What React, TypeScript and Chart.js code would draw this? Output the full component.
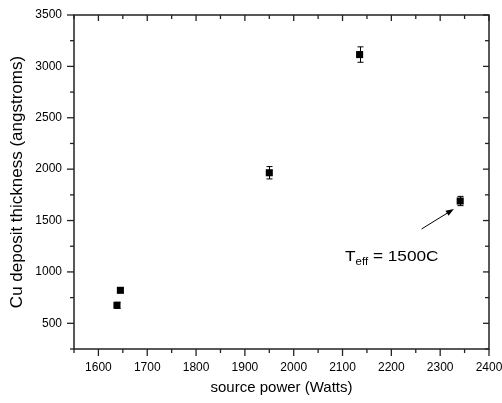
import { useEffect, useRef } from "react";
import { Chart, registerables } from "chart.js";

Chart.register(...registerables);

// ---- data ----
const powerWatts = [1638, 1645, 1950, 2135, 2341];
const thickness = [675, 821, 1965, 3115, 1690];
const thicknessErr = [30, 20, 60, 75, 45];

const xMajorTicks = [1600, 1700, 1800, 1900, 2000, 2100, 2200, 2300, 2400];
const xMinorTicks = [1550, 1650, 1750, 1850, 1950, 2050, 2150, 2250, 2350];
const yMajorTicks = [500, 1000, 1500, 2000, 2500, 3000, 3500];
const yMinorTicks = [250, 750, 1250, 1750, 2250, 2750, 3250];
const xRange = [1550, 2400];
const yRange = [250, 3500];

const xTitle = "source power (Watts)";
const yTitle = "Cu deposit thickness (angstroms)";

const annotationMain = "T";
const annotationSub = "eff";
const annotationRest = " = 1500C";
const annotationAt = [2105, 1105];
const arrowTail = [2262, 1418];
const arrowHead = [2328, 1612];

const FONT = "Arial, 'Liberation Sans', Helvetica, sans-serif";
const AXIS_COLOR = "#222";

const decorPlugin = {
  id: "decor",
  beforeDatasetsDraw(chart: any) {
    const { ctx } = chart;
    const xs = chart.scales.x;
    const ys = chart.scales.y;
    ctx.save();
    ctx.strokeStyle = "#000";
    ctx.lineWidth = 1;
    powerWatts.forEach((xv, i) => {
      const px = Math.round(xs.getPixelForValue(xv)) + 0.5;
      const top = ys.getPixelForValue(thickness[i] + thicknessErr[i]);
      const bot = ys.getPixelForValue(thickness[i] - thicknessErr[i]);
      ctx.beginPath();
      ctx.moveTo(px, top);
      ctx.lineTo(px, bot);
      ctx.moveTo(px - 3, top);
      ctx.lineTo(px + 3, top);
      ctx.moveTo(px - 3, bot);
      ctx.lineTo(px + 3, bot);
      ctx.stroke();
    });
    ctx.restore();
  },
  afterDraw(chart: any) {
    const { ctx, chartArea } = chart;
    const xs = chart.scales.x;
    const ys = chart.scales.y;
    const { left, right, top, bottom } = chartArea;
    ctx.save();
    ctx.strokeStyle = AXIS_COLOR;
    ctx.lineWidth = 1.5;
    ctx.strokeRect(left, top, right - left, bottom - top);

    const tick = (x1: number, y1: number, x2: number, y2: number) => {
      ctx.beginPath();
      ctx.moveTo(x1, y1);
      ctx.lineTo(x2, y2);
      ctx.stroke();
    };
    ctx.lineWidth = 1.3;
    xMajorTicks.forEach((v) => {
      const p = xs.getPixelForValue(v);
      tick(p, bottom, p, bottom + 7);
      tick(p, top, p, top + 6);
    });
    xMinorTicks.forEach((v) => {
      const p = xs.getPixelForValue(v);
      tick(p, bottom, p, bottom + 4);
      tick(p, top, p, top + 4);
    });
    yMajorTicks.forEach((v) => {
      const p = ys.getPixelForValue(v);
      tick(left, p, left - 7, p);
      tick(right, p, right - 6, p);
    });
    yMinorTicks.forEach((v) => {
      const p = ys.getPixelForValue(v);
      tick(left, p, left - 4, p);
      tick(right, p, right - 4, p);
    });

    // annotation text (slightly wide, as in the reference)
    const tx = xs.getPixelForValue(annotationAt[0]);
    const ty = ys.getPixelForValue(annotationAt[1]);
    ctx.save();
    ctx.translate(tx, ty);
    ctx.scale(1.15, 1);
    ctx.fillStyle = "#000";
    ctx.textBaseline = "alphabetic";
    ctx.textAlign = "left";
    ctx.font = `15px ${FONT}`;
    ctx.fillText(annotationMain, 0, 0);
    let cx = ctx.measureText(annotationMain).width;
    ctx.font = `10px ${FONT}`;
    ctx.fillText(annotationSub, cx, 4);
    cx += ctx.measureText(annotationSub).width;
    ctx.font = `15px ${FONT}`;
    ctx.fillText(annotationRest, cx, 0);
    ctx.restore();

    // arrow
    const ax1 = xs.getPixelForValue(arrowTail[0]);
    const ay1 = ys.getPixelForValue(arrowTail[1]);
    const ax2 = xs.getPixelForValue(arrowHead[0]);
    const ay2 = ys.getPixelForValue(arrowHead[1]);
    const ang = Math.atan2(ay2 - ay1, ax2 - ax1);
    const hl = 8;
    const hw = 3;
    const bx = ax2 - hl * Math.cos(ang);
    const by = ay2 - hl * Math.sin(ang);
    ctx.strokeStyle = "#000";
    ctx.fillStyle = "#000";
    ctx.lineWidth = 1;
    ctx.beginPath();
    ctx.moveTo(ax1, ay1);
    ctx.lineTo(bx, by);
    ctx.stroke();
    ctx.beginPath();
    ctx.moveTo(ax2, ay2);
    ctx.lineTo(bx + hw * Math.sin(ang), by - hw * Math.cos(ang));
    ctx.lineTo(bx - hw * Math.sin(ang), by + hw * Math.cos(ang));
    ctx.closePath();
    ctx.fill();
    ctx.restore();
  },
};

export default function App() {
  const canvasRef = useRef<HTMLCanvasElement | null>(null);

  useEffect(() => {
    const canvas = canvasRef.current;
    if (!canvas) return;
    const chart = new Chart(canvas, {
      type: "scatter",
      data: {
        datasets: [
          {
            data: powerWatts.map((x, i) => ({ x, y: thickness[i] })),
            pointStyle: "rect",
            pointRadius: 5,
            pointHoverRadius: 5,
            backgroundColor: "#000",
            borderColor: "#000",
            borderWidth: 0,
            showLine: false,
          },
        ],
      },
      options: {
        responsive: false,
        animation: false,
        events: [],
        layout: { padding: { top: 15, right: 0, left: 0, bottom: 0 } },
        plugins: {
          legend: { display: false },
          tooltip: { enabled: false },
        },
        scales: {
          x: {
            type: "linear",
            min: xRange[0],
            max: xRange[1],
            afterBuildTicks: (scale: any) => {
              scale.ticks = xMajorTicks.map((v) => ({ value: v }));
            },
            afterFit: (scale: any) => {
              scale.height = 54;
              scale.paddingLeft = 0;
              scale.paddingRight = 13;
            },
            grid: { display: false, drawTicks: false },
            border: { display: false },
            ticks: {
              padding: 11,
              maxRotation: 0,
              color: "#000",
              font: { family: FONT, size: 12 },
              callback: (v: any) => String(v),
            },
            title: {
              display: true,
              text: xTitle,
              color: "#000",
              font: { family: FONT, size: 15 },
              padding: { top: 0, bottom: 6 },
            },
          },
          y: {
            type: "linear",
            min: yRange[0],
            max: yRange[1],
            afterBuildTicks: (scale: any) => {
              scale.ticks = yMajorTicks.map((v) => ({ value: v }));
            },
            afterFit: (scale: any) => {
              scale.width = 74;
              scale.paddingTop = 0;
              scale.paddingBottom = 0;
            },
            grid: { display: false, drawTicks: false },
            border: { display: false },
            ticks: {
              padding: 12,
              color: "#000",
              font: { family: FONT, size: 12 },
              callback: (v: any) => String(v),
            },
            title: {
              display: true,
              text: yTitle,
              color: "#000",
              font: { family: FONT, size: 17 },
              padding: { top: 7, bottom: 0 },
            },
          },
        },
      },
      plugins: [decorPlugin],
    });
    return () => chart.destroy();
  }, []);

  return (
    <div style={{ position: "fixed", left: 0, top: 0, width: 502, height: 403, background: "#fff" }}>
      <canvas ref={canvasRef} width={502} height={403} />
    </div>
  );
}
